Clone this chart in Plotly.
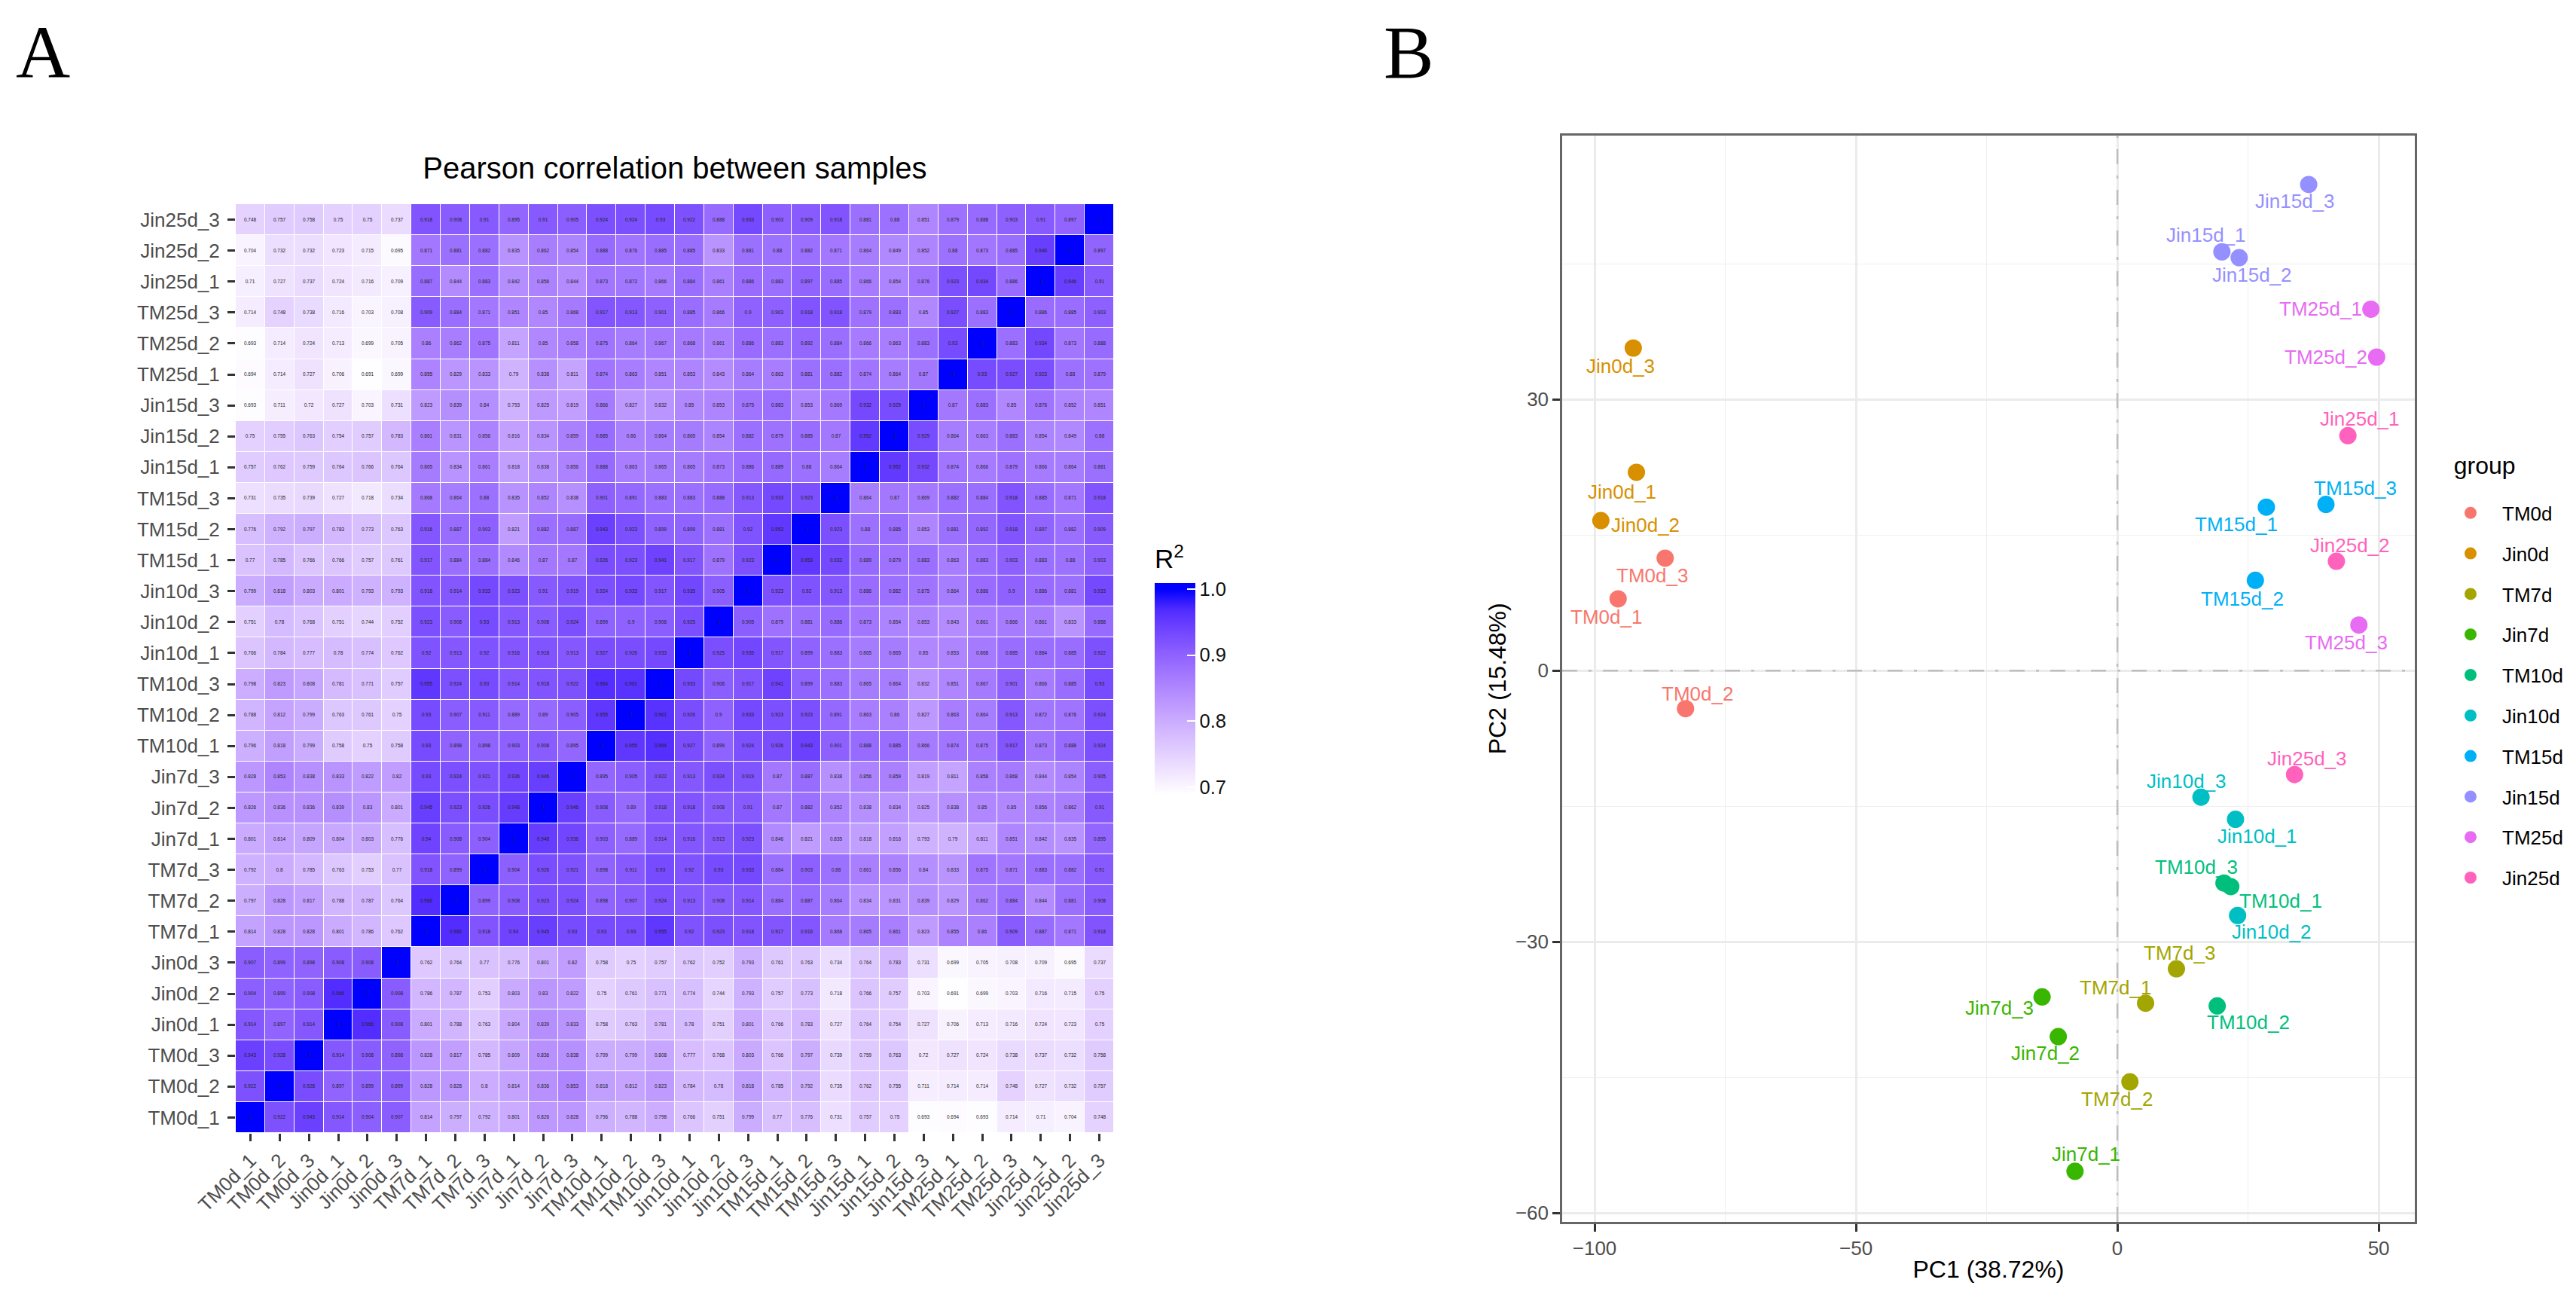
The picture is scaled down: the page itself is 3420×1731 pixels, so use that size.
import plotly.graph_objects as go

W, H = 3420, 1731
FONT = "Liberation Sans"

samples = ["TM0d_1","TM0d_2","TM0d_3","Jin0d_1","Jin0d_2","Jin0d_3",
           "TM7d_1","TM7d_2","TM7d_3","Jin7d_1","Jin7d_2","Jin7d_3",
           "TM10d_1","TM10d_2","TM10d_3","Jin10d_1","Jin10d_2","Jin10d_3",
           "TM15d_1","TM15d_2","TM15d_3","Jin15d_1","Jin15d_2","Jin15d_3",
           "TM25d_1","TM25d_2","TM25d_3","Jin25d_1","Jin25d_2","Jin25d_3"]

# lower triangle of the symmetric correlation matrix, one row per sample
corr_rows = [
 [1],
 [.922,1],
 [.943,.928,1],
 [.914,.897,.914,1],
 [.904,.899,.908,.966,1],
 [.907,.899,.898,.908,.908,1],
 [.814,.828,.828,.801,.786,.762,1],
 [.797,.828,.817,.788,.787,.764,.966,1],
 [.792,.8,.785,.763,.753,.77,.918,.899,1],
 [.801,.814,.809,.804,.803,.776,.94,.908,.904,1],
 [.826,.836,.836,.839,.83,.801,.945,.923,.926,.948,1],
 [.828,.853,.838,.833,.822,.82,.93,.924,.921,.936,.946,1],
 [.796,.818,.799,.758,.75,.758,.93,.898,.898,.903,.908,.895,1],
 [.788,.812,.799,.763,.761,.75,.93,.907,.911,.889,.89,.905,.955,1],
 [.798,.823,.808,.781,.771,.757,.955,.924,.93,.914,.918,.922,.964,.961,1],
 [.766,.784,.777,.78,.774,.762,.92,.913,.92,.916,.918,.913,.927,.926,.933,1],
 [.751,.78,.768,.751,.744,.752,.923,.908,.93,.913,.908,.924,.899,.9,.906,.925,1],
 [.799,.818,.803,.801,.793,.793,.918,.914,.933,.923,.91,.919,.924,.933,.917,.935,.905,1],
 [.77,.785,.766,.766,.757,.761,.917,.884,.884,.846,.87,.87,.926,.923,.941,.917,.879,.923,1],
 [.776,.792,.797,.783,.773,.763,.916,.887,.903,.821,.882,.887,.943,.923,.899,.899,.881,.92,.953,1],
 [.731,.735,.739,.727,.718,.734,.868,.864,.88,.835,.852,.838,.901,.891,.883,.883,.888,.913,.933,.923,1],
 [.757,.762,.759,.764,.766,.764,.865,.834,.861,.818,.838,.856,.888,.863,.865,.865,.873,.886,.889,.88,.864,1],
 [.75,.755,.763,.754,.757,.783,.861,.831,.856,.816,.834,.859,.885,.86,.864,.865,.854,.882,.879,.885,.87,.952,1],
 [.693,.711,.72,.727,.703,.731,.823,.839,.84,.793,.825,.819,.866,.827,.832,.85,.853,.875,.883,.853,.869,.932,.929,1],
 [.694,.714,.727,.706,.691,.699,.855,.829,.833,.79,.838,.811,.874,.863,.851,.853,.843,.864,.863,.881,.882,.874,.864,.87,1],
 [.693,.714,.724,.713,.699,.705,.86,.862,.875,.811,.85,.858,.875,.864,.867,.868,.861,.886,.883,.892,.884,.866,.863,.883,.93,1],
 [.714,.748,.738,.716,.703,.708,.909,.884,.871,.851,.85,.868,.917,.913,.901,.885,.866,.9,.903,.918,.918,.879,.883,.85,.927,.883,1],
 [.71,.727,.737,.724,.716,.709,.887,.844,.883,.842,.856,.844,.873,.872,.866,.884,.861,.886,.883,.897,.885,.866,.854,.876,.923,.934,.886,1],
 [.704,.732,.732,.723,.715,.695,.871,.881,.882,.835,.862,.854,.888,.876,.885,.885,.833,.881,.88,.882,.871,.864,.849,.852,.88,.873,.885,.946,1],
 [.748,.757,.758,.75,.75,.737,.918,.908,.91,.895,.91,.905,.924,.924,.93,.922,.888,.933,.903,.909,.918,.881,.88,.851,.879,.888,.903,.91,.897,1],
]

groups = ["TM0d","Jin0d","TM7d","Jin7d","TM10d","Jin10d","TM15d","Jin15d","TM25d","Jin25d"]
group_colors = ["#F8766D","#D89000","#A3A500","#39B600","#00BF7D","#00BFC4","#00B0F6","#9590FF","#E76BF3","#FF62BC"]

pc1 = {"TM0d":[-95.5,-82.6,-86.5],"Jin0d":[-92.0,-98.8,-92.6],"TM7d":[5.4,2.4,11.3],"Jin7d":[-8.1,-11.3,-14.4],
       "TM10d":[21.7,19.1,20.4],"Jin10d":[22.6,23.0,16.0],"TM15d":[28.5,26.4,39.9],"Jin15d":[20.0,23.3,36.6],
       "TM25d":[48.5,49.6,46.2],"Jin25d":[44.1,41.9,33.9]}
pc2 = {"TM0d":[7.95,-4.2,12.45],"Jin0d":[21.95,16.6,35.7],"TM7d":[-36.8,-45.5,-33.0],"Jin7d":[-55.4,-40.5,-36.1],
       "TM10d":[-23.9,-37.1,-23.5],"Jin10d":[-16.45,-27.1,-14.0],"TM15d":[18.1,10.0,18.4],"Jin15d":[46.35,45.7,53.8],
       "TM25d":[40.0,34.7,5.05],"Jin25d":[26.0,12.1,-11.5]}

# repelled label offsets from each point (page pixels, right / down)
label_offsets = {
 "TM0d_1":(-16,24),"TM0d_2":(16,-20),"TM0d_3":(-17,23),"Jin0d_1":(-19,26),"Jin0d_2":(59,6),"Jin0d_3":(-17,24),
 "TM7d_1":(-40,-21),"TM7d_2":(-17,23),"TM7d_3":(4,-21),"Jin7d_1":(15,-23),"Jin7d_2":(-17,22),"Jin7d_3":(-57,15),
 "TM10d_1":(66,19),"TM10d_2":(41,22),"TM10d_3":(-37,-21),"Jin10d_1":(29,22),"Jin10d_2":(45,22),"Jin10d_3":(-19,-21),
 "TM15d_1":(-40,23),"TM15d_2":(-17,25),"TM15d_3":(39,-22),"Jin15d_1":(-21,-22),"Jin15d_2":(17,23),"Jin15d_3":(-18,22),
 "TM25d_1":(-67,0),"TM25d_2":(-67,0),"TM25d_3":(-17,23),"Jin25d_1":(16,-22),"Jin25d_2":(18,-21),"Jin25d_3":(17,-21),
}

X_RANGE = [-106.2, 56.9]
Y_RANGE = [-61, 59.25]

assert all(len(r) == i + 1 for i, r in enumerate(corr_rows))
n = len(samples)
z = [[corr_rows[max(i, j)][min(i, j)] for j in range(n)] for i in range(n)]
text = [[f"{v:g}" for v in row] for row in z]


def lab_to_hex(L, a, b):
    fy = (L + 16) / 116; fx = fy + a / 500; fz = fy - b / 200
    f = lambda t: t ** 3 if t > 6 / 29 else 3 * (6 / 29) ** 2 * (t - 4 / 29)
    X, Y, Z = .95047 * f(fx), f(fy), 1.08883 * f(fz)
    rgb = [3.2406 * X - 1.5372 * Y - .4986 * Z,
           -.9689 * X + 1.8758 * Y + .0415 * Z,
           .0557 * X - .2040 * Y + 1.0570 * Z]
    g = lambda c: 12.92 * c if c <= .0031308 else 1.055 * c ** (1 / 2.4) - .055
    return "#" + "".join(f"{round(255 * min(1, max(0, g(c)))):02X}" for c in rgb)


Z_LOW, Z_TOP, Z_MAX = .689, 1.0, 1.009
scale = []
for k in range(11):
    t = k / 10
    pos = (Z_LOW + t * (Z_TOP - Z_LOW) - Z_LOW) / (Z_MAX - Z_LOW)
    scale.append([pos, lab_to_hex(100 - 67.7 * t, 79.2 * t, -107.9 * t)])
scale.append([1.0, "#0000FF"])

fig = go.Figure()
fig.add_trace(go.Heatmap(
    x=samples, y=samples, z=z, text=text, texttemplate="%{text}",
    textfont=dict(size=6.4, color="#222222", family=FONT),
    colorscale=scale, zmin=Z_LOW, zmax=Z_MAX, xgap=1, ygap=1, xaxis="x", yaxis="y",
    colorbar=dict(x=1533 / W, xanchor="left", xpad=0, y=1 - 725 / H, yanchor="top", ypad=0,
                  len=(1055 - 725) / H, lenmode="fraction", thickness=54, thicknessmode="pixels",
                  outlinewidth=0, ticks="inside", ticklen=11, tickcolor="white", tickwidth=2,
                  tickvals=[.7, .8, .9, 1.0], ticktext=["0.7", "0.8", "0.9", "1.0"],
                  tickfont=dict(size=25.5, color="#111111", family=FONT),
                  title=dict(text="R<sup>2</sup>", side="top", font=dict(size=35, color="black", family=FONT))),
))

annotations = []
for gi, g in enumerate(groups):
    fig.add_trace(go.Scatter(
        x=pc1[g], y=pc2[g], mode="markers", name=g, legendgroup=g, xaxis="x2", yaxis="y2",
        marker=dict(color=group_colors[gi], size=23),
    ))
    for k in range(3):
        lab = f"{g}_{k + 1}"
        dx, dy = label_offsets[lab]
        annotations.append(dict(x=pc1[g][k], y=pc2[g][k], xref="x2", yref="y2", text=lab, showarrow=False,
                                xshift=dx, yshift=-dy, font=dict(size=26, color=group_colors[gi], family=FONT)))

annotations.append(dict(x=57 / W, y=1 - 70 / H, xref="paper", yref="paper", xanchor="center", yanchor="middle",
                        text="A", showarrow=False, font=dict(size=100, color="black", family="Liberation Serif")))
annotations.append(dict(x=1870 / W, y=1 - 70 / H, xref="paper", yref="paper", xanchor="center", yanchor="middle",
                        text="B", showarrow=False, font=dict(size=100, color="black", family="Liberation Serif")))

heat_axis = dict(type="category", showgrid=False, zeroline=False, showline=False, ticks="outside",
                 ticklen=10, tickwidth=2.5, tickcolor="#333333", tickmode="array", tickvals=samples,
                 ticktext=samples, tickfont=dict(size=26, color="#4D4D4D", family=FONT))
pca_axis = dict(zeroline=False, showline=True, mirror=True, linewidth=2.5, linecolor="#666666",
                showgrid=True, gridcolor="#EBEBEB", gridwidth=2.5, ticks="outside", ticklen=10,
                tickwidth=2.5, tickcolor="#333333", tickfont=dict(size=26, color="#4D4D4D", family=FONT))
zero_line = dict(color="#BEBEBE", width=2.5, dash="20px,15px,4px,15px")

fig.update_layout(
    width=W, height=H, autosize=False, margin=dict(l=0, r=0, t=0, b=0, autoexpand=False),
    paper_bgcolor="white", plot_bgcolor="white", font=dict(family=FONT),
    title=dict(text="Pearson correlation between samples", x=896 / W, xanchor="center",
               y=1 - 223 / H, yanchor="middle", font=dict(size=40, color="black", family=FONT)),
    xaxis=dict(heat_axis, domain=[313 / W, 1479 / W], tickangle=-45, anchor="y"),
    yaxis=dict(heat_axis, domain=[1 - 1504 / H, 1 - 271 / H], anchor="x", ticklabelstandoff=5),
    xaxis2=dict(pca_axis, domain=[2074 / W, 3206 / W], range=X_RANGE, tickvals=[-100, -50, 0, 50],
                minor=dict(tickvals=[-75, -25, 25], showgrid=True, gridcolor="#EFEFEF", gridwidth=1.3, ticks=""),
                anchor="y2", title=dict(text="PC1 (38.72%)", standoff=3, font=dict(size=32, color="black", family=FONT))),
    yaxis2=dict(pca_axis, domain=[1 - 1622 / H, 1 - 179.5 / H], range=Y_RANGE, tickvals=[-60, -30, 0, 30],
                minor=dict(tickvals=[-45, -15, 15, 45], showgrid=True, gridcolor="#EFEFEF", gridwidth=1.3, ticks=""),
                anchor="x2", title=dict(text="PC2 (15.48%)", standoff=3, font=dict(size=32, color="black", family=FONT))),
    legend=dict(x=3238 / W, xanchor="left", y=1 - 601.5 / H, yanchor="top", itemwidth=74, tracegroupgap=17,
                bgcolor="rgba(0,0,0,0)", font=dict(size=26, color="black", family=FONT),
                title=dict(text="<span style='font-size:32px'>\u00a0\u00a0group</span><br>\u00a0",
                           font=dict(size=21.5, color="black", family=FONT))),
    annotations=annotations,
    shapes=[dict(type="line", layer="above", xref="x2", x0=X_RANGE[0], x1=X_RANGE[1], yref="y2", y0=0, y1=0, line=zero_line),
            dict(type="line", layer="above", yref="y2", y0=Y_RANGE[0], y1=Y_RANGE[1], xref="x2", x0=0, x1=0, line=zero_line)],
)

fig.write_html("out.html", config={"displayModeBar": False},
               post_script="document.body.style.margin='0';document.body.style.overflow='hidden';")
